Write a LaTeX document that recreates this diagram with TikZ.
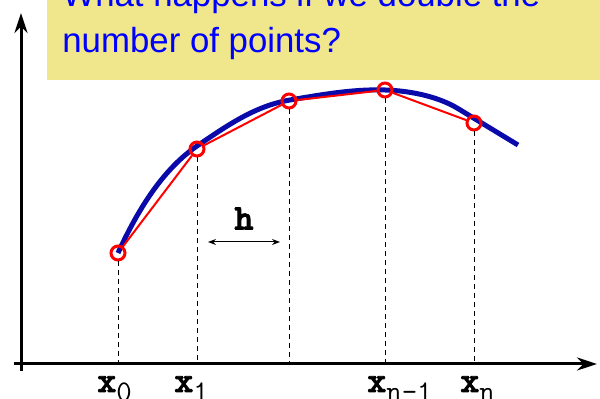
\documentclass[tikz,border=0pt]{standalone}
\usepackage{fontspec}
\newfontfamily\qfont{Liberation Sans}
\newfontfamily\heavytt{lmmonolt10-bold.otf}[FakeBold=2.5]
\usetikzlibrary{positioning,arrows.meta}
\definecolor{notebg}{RGB}{240,230,140}
\definecolor{curveblue}{RGB}{10,10,170}
\newcommand{\ptlabel}[1]{{\heavytt\fontsize{18}{20}\selectfont x}\raisebox{-5pt}{#1}}

\begin{document}
\begin{tikzpicture}[x=0.5pt,y=-0.5pt,
  axis/.style={line width=1.5pt,-{Stealth[length=10pt,width=6.5pt]}},
  pt/.style={circle,draw=red,line width=1.5pt,minimum size=7pt,inner sep=0pt},
  poly/.style={red,line width=1pt},
  guide/.style={line width=0.5pt,dash pattern=on 2.5pt off 2pt},
  dim/.style={line width=0.5pt,{Stealth[length=4pt,width=3pt]}-{Stealth[length=4pt,width=3pt]}},
  lab/.style={anchor=base west,inner sep=0pt,font=\fontsize{15}{18}\selectfont\ttfamily},
  quest/.style={anchor=base west,inner sep=0pt,text=blue,font=\qfont\fontsize{17.4}{23}\selectfont}]
\useasboundingbox (0,0) rectangle (600,399);
\clip (0,0) rectangle (600,399);
% note box
\fill[notebg] (47,0) rectangle (600,80);
\node[quest] (q1) at (62,7) {What happens if we double the};
\node[quest] (q2) at (62,53) {number of points?};
% axes
\coordinate (o) at (21,364);
\coordinate (ytop) at (21,13);
\coordinate (xend) at (597,364);
\draw[axis] (21,371) -- (ytop);
\draw[axis] (14,364) -- (xend);
% exact curve
\draw[curveblue,line width=2.5pt] (118,253) .. controls (140,205) and (165,168) .. (197,146)
  .. controls (228,125) and (255,106) .. (290,100)
  .. controls (325,94) and (355,89) .. (385,90)
  .. controls (415,91) and (440,98) .. (457,108) -- (518,145);
% sample points
\node[pt] (p0) at (118,253) {};
\node[pt] (p1) at (197,149) {};
\node[pt] (p2) at (289,101) {};
\node[pt] (p3) at (385,90) {};
\node[pt] (p4) at (474,123) {};
\draw[poly] (p0) -- (p1) -- (p2) -- (p3) -- (p4);
\foreach \p in {p0,p1,p2,p3,p4}
  \draw[guide] (\p.south) -- (\p |- o);
% step width
\coordinate (hL) at (208,242);
\coordinate (hR) at (280,242);
\draw[dim] (hL) -- node[above=6pt,inner sep=0pt,font=\fontsize{18}{20}\selectfont\heavytt] (h) {h} (hR);
% abscissae
\node[lab] (x0) at (97,392) {\ptlabel{0}};
\node[lab] (x1) at (174,392) {\ptlabel{1}};
\node[lab] (xm) at (367,392) {\ptlabel{n-1}};
\node[lab] (xn) at (460,392) {\ptlabel{n}};
\end{tikzpicture}
\end{document}
